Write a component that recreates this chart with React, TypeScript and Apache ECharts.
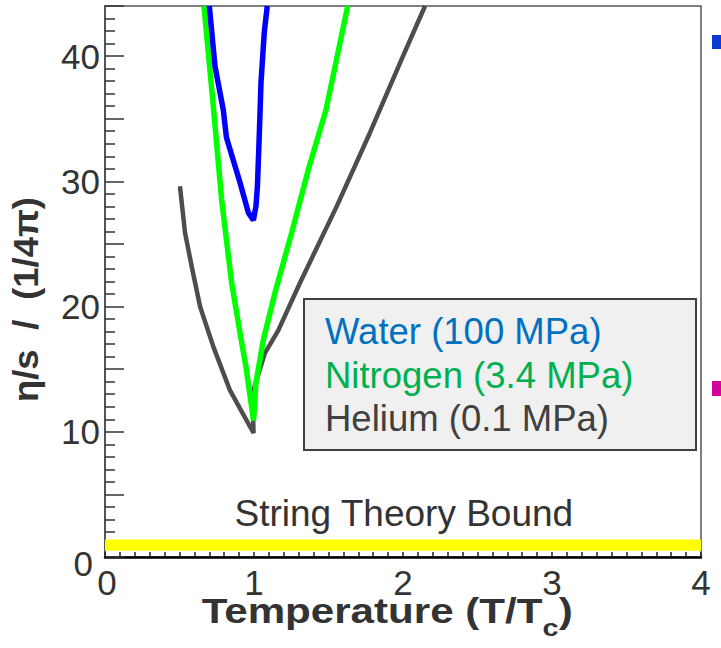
import React, { useEffect, useRef } from 'react';
import * as echarts from 'echarts';

// η/s in units of 1/4π against reduced temperature T/Tc
const waterCurve: number[][] = [
  [0.70, 44.0], [0.738, 39.2], [0.794, 35.7], [0.815, 33.5], [0.906, 29.9],
  [0.962, 27.5], [0.996, 26.9], [1.013, 28.0], [1.023, 29.6], [1.036, 33.9],
  [1.047, 37.9], [1.069, 41.9], [1.089, 44.0],
];
const nitrogenCurve: number[][] = [
  [0.664, 44.0], [0.723, 36.5], [0.783, 28.5], [0.850, 21.9],
  [0.906, 17.9], [0.946, 15.2], [0.997, 10.9], [1.013, 13.9], [1.062, 17.3],
  [1.141, 21.1], [1.253, 25.9], [1.371, 31.2], [1.483, 35.7], [1.629, 44.0],
];
const heliumCurve: number[][] = [
  [0.503, 29.6], [0.537, 25.9], [0.582, 23.2], [0.638, 20.0], [0.727, 16.8],
  [0.839, 13.3], [0.997, 9.9], [0.99, 13.1], [1.074, 16.3], [1.163, 18.1],
  [1.309, 21.9], [1.555, 28.0], [1.779, 33.9], [2.0, 40.0], [2.148, 44.0],
];
// string-theory (KSS) bound drawn as a band around η/s = 1/4π
const boundBand = [0.5, 1.4];

const seriesNames = ['Water (100 MPa)', 'Nitrogen (3.4 MPa)', 'Helium (0.1 MPa)'];
const lineColors = ['#0000ff', '#00ff00', '#4d4d4d'];
const legendTextColors = ['#0070c0', '#00b050', '#404040'];

const FONT = '"Liberation Sans", Arial, Helvetica, sans-serif';

function measure(text: string, font: string): number {
  const ctx = document.createElement('canvas').getContext('2d');
  if (!ctx) return text.length * 18;
  ctx.font = font;
  return ctx.measureText(text).width;
}

export default function App() {
  const ref = useRef<HTMLDivElement>(null);

  useEffect(() => {
    if (!ref.current) return;
    const chart = echarts.init(ref.current, null, { renderer: 'svg' });

    // x-axis title: "Temperature (T/T" + subscript c + ")"
    const tSize = 35;
    const subSize = 24;
    const mainFont = `bold ${tSize}px "Liberation Sans"`;
    const subFont = `bold ${subSize}px "Liberation Sans"`;
    const xw1 = measure('Temperature (T/T', mainFont);
    const xw2 = measure('c', subFont);
    const xw3 = measure(')', mainFont);
    const xStretch = 371 / (xw1 + xw2 + xw3);

    // y-axis title pieces along the reading direction
    const yStretch = 1.04;
    const yw1 = measure('η/s', mainFont);
    const yw2 = measure('/', mainFont);
    const gap = 19;

    const titleText = (text: string, x: number, y: number, font: number, color = '#333') => ({
      type: 'text',
      x,
      y,
      style: {
        text,
        fill: color,
        font: `bold ${font}px ${FONT}`,
        align: 'left',
        verticalAlign: 'middle',
      },
    });

    const legendX = 304;
    const legendY = 299;
    const legendRows = [331.7, 375.5, 418.8];

    chart.setOption({
      animation: false,
      backgroundColor: '#ffffff',
      grid: {
        left: 105,
        right: 20,
        top: 6,
        bottom: 91,
        show: true,
        borderColor: '#555555',
        borderWidth: 1.5,
        backgroundColor: 'transparent',
      },
      xAxis: {
        type: 'value',
        min: 0,
        max: 4,
        interval: 1,
        axisLine: { show: true, onZero: false, lineStyle: { color: '#000000', width: 2.5 } },
        axisTick: { show: true, inside: true, length: 5, lineStyle: { color: '#222', width: 1.5 } },
        minorTick: { show: true, splitNumber: 10, length: 5, lineStyle: { color: '#222', width: 1.5 } },
        splitLine: { show: false },
        minorSplitLine: { show: false },
        axisLabel: {
          color: '#333',
          fontFamily: FONT,
          fontSize: 35,
          margin: 8,
          showMaxLabel: true,
          hideOverlap: false,
          formatter: (v: number) => (v === 0 ? '{z|0}' : String(v)),
          rich: {
            z: { fontSize: 35, fontFamily: FONT, color: '#333', padding: [0, 0, 0, 4] },
          },
        },
      },
      yAxis: {
        type: 'value',
        min: 0,
        max: 44,
        interval: 5,
        axisLine: { show: true, onZero: false, lineStyle: { color: '#555555', width: 2 } },
        axisTick: { show: true, inside: true, length: 19, lineStyle: { color: '#333', width: 1.5 } },
        minorTick: { show: true, splitNumber: 5, length: 10, lineStyle: { color: '#333', width: 1.5 } },
        splitLine: { show: false },
        minorSplitLine: { show: false },
        axisLabel: {
          color: '#333',
          fontFamily: FONT,
          fontSize: 35,
          margin: 5,
          hideOverlap: false,
          formatter: (v: number) => (v % 10 === 0 ? (v === 0 ? '{z|0}' : String(v)) : ''),
          rich: {
            z: { fontSize: 35, fontFamily: FONT, color: '#333', padding: [12, 7, 0, 0] },
          },
        },
      },
      series: [
        {
          type: 'line',
          name: seriesNames[2],
          data: heliumCurve,
          symbol: 'none',
          lineStyle: { color: lineColors[2], width: 4.5 },
          z: 3,
          markArea: {
            silent: true,
            itemStyle: { color: '#ffff00', opacity: 1 },
            data: [[{ xAxis: 0, yAxis: boundBand[0] }, { xAxis: 4, yAxis: boundBand[1] }]],
          },
        },
        {
          type: 'line',
          name: seriesNames[1],
          data: nitrogenCurve,
          symbol: 'none',
          lineStyle: { color: lineColors[1], width: 5.5 },
          z: 4,
        },
        {
          type: 'line',
          name: seriesNames[0],
          data: waterCurve,
          symbol: 'none',
          lineStyle: { color: lineColors[0], width: 5.5 },
          z: 5,
        },
      ],
      graphic: [
        // legend box
        {
          type: 'rect',
          shape: { x: legendX, y: legendY, width: 392, height: 151 },
          style: { fill: '#f0f0f0', stroke: '#404040', lineWidth: 2 },
          z: 10,
        },
        ...seriesNames.map((name, i) => ({
          type: 'text',
          x: 325,
          y: legendRows[i],
          z: 11,
          style: {
            text: name,
            fill: legendTextColors[i],
            font: `36.5px ${FONT}`,
            align: 'left',
            verticalAlign: 'middle',
          },
        })),
        {
          type: 'text',
          x: 403.8,
          y: 513,
          z: 11,
          style: {
            text: 'String Theory Bound',
            fill: '#333',
            font: `37px ${FONT}`,
            align: 'center',
            verticalAlign: 'middle',
          },
        },
        // x-axis title
        {
          type: 'group',
          x: 201.7,
          y: 0,
          scaleX: xStretch,
          children: [
            titleText('Temperature (T/T', 0, 610.5, tSize),
            titleText('c', xw1, 628, subSize),
            titleText(')', xw1 + xw2, 610.5, tSize),
          ],
        },
        // y-axis title, reading bottom to top
        {
          type: 'group',
          x: 26,
          y: 402,
          rotation: Math.PI / 2,
          scaleX: yStretch,
          children: [
            titleText('η/s', 0, 0, tSize),
            titleText('/', yw1 + gap, 0, tSize),
            titleText('(1/4π)', yw1 + gap + yw2 + gap, 0, tSize),
          ],
        },
        // edge markers at the right border
        {
          type: 'rect',
          shape: { x: 712, y: 35, width: 9, height: 14 },
          style: { fill: '#0a3cd2' },
        },
        {
          type: 'rect',
          shape: { x: 712, y: 381, width: 9, height: 15 },
          style: { fill: '#d4009c' },
        },
      ],
    });

    return () => chart.dispose();
  }, []);

  return (
    <div
      ref={ref}
      style={{ position: 'fixed', left: 0, top: 0, width: 721, height: 648, background: '#ffffff' }}
    />
  );
}
